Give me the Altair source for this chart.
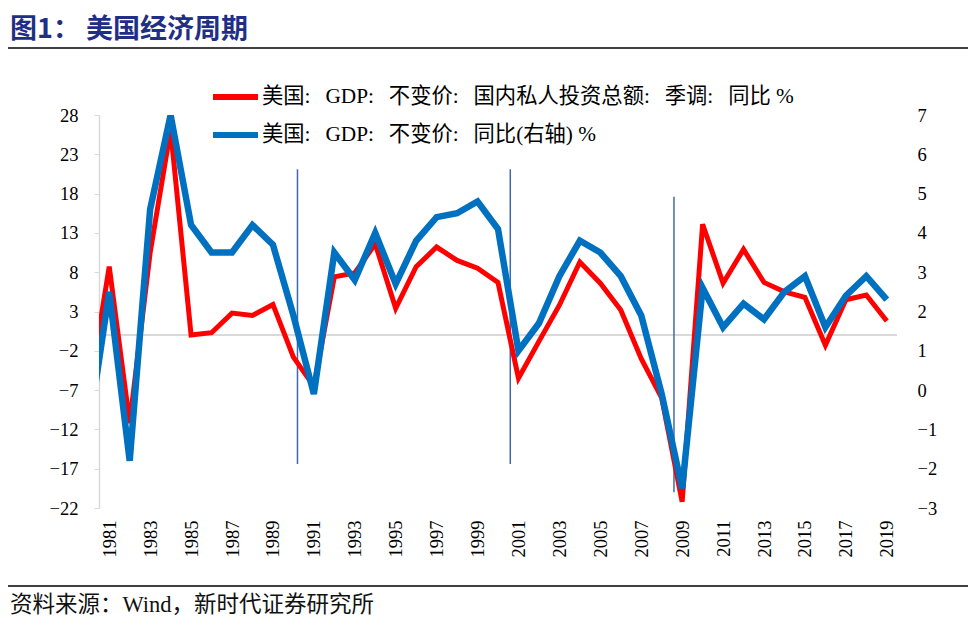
import altair as alt
import pandas as pd

TITLE = "图1：  美国经济周期"
SOURCE = "资料来源：Wind，新时代证券研究所"
SEP = ":\u2002\u2009"
SERIES = [f"美国{SEP}GDP{SEP}不变价{SEP}国内私人投资总额{SEP}季调{SEP}同比 %",
          f"美国{SEP}GDP{SEP}不变价{SEP}同比(右轴)  %"]
COLORS = ["#FF0000", "#0070C0"]

years = list(range(1980, 2020))
invest = [-7.5, 8.7, -11.2, 10.5, 26.1, 0.0, 0.3, 2.8, 2.5, 3.9,
          -2.8, -6.5, 7.4, 7.9, 11.6, 3.4, 8.7, 11.2, 9.5, 8.5,
          6.7, -5.5, -0.8, 3.8, 9.3, 6.6, 3.2, -3.0, -8.0, -21.2,
          14.1, 6.6, 10.9, 6.7, 5.5, 4.8, -1.3, 4.5, 5.1, 1.8]
gdp = [-1.0, 2.5, -1.8, 4.6, 7.0, 4.2, 3.5, 3.5, 4.2, 3.7,
       1.9, -0.1, 3.5, 2.8, 4.0, 2.7, 3.8, 4.4, 4.5, 4.8,
       4.1, 1.0, 1.7, 2.9, 3.8, 3.5, 2.9, 1.9, -0.1, -2.5,
       2.6, 1.6, 2.2, 1.8, 2.5, 2.9, 1.6, 2.4, 2.9, 2.3]

left_ticks = [-22, -17, -12, -7, -2, 3, 8, 13, 18, 23, 28]
right_ticks = [-3, -2, -1, 0, 1, 2, 3, 4, 5, 6, 7]
x_ticks = list(range(1981, 2020, 2))
x_domain = [1980.5, 2019.5]
left_domain = [-22, 28]
right_domain = [-3, 7]

# recession marker lines (year, top, bottom on left axis)
vline_year = [1990.2, 2000.6, 2008.6]
vline_top = [21.1, 21.1, 17.6]
vline_bottom = [-16.4, -16.4, -20.0]
zero_line = [0]

W, H = 798, 393
SERIF = "Liberation Serif"
CJK = "'Liberation Serif', 'Noto Sans CJK SC'"

df = pd.DataFrame({"year": years, "invest": invest, "gdp": gdp})
vdf = pd.DataFrame({"year": vline_year, "top": vline_top, "bottom": vline_bottom})
zdf = pd.DataFrame({"v": zero_line})
one = pd.DataFrame({"k": [0]})

x_enc = alt.X("year:Q",
              scale=alt.Scale(domain=x_domain, nice=False, zero=False),
              axis=alt.Axis(values=x_ticks, format="d", labelAngle=270,
                            domain=False, ticks=False, grid=False,
                            labelPadding=12, labelFont=SERIF,
                            labelFontSize=18.5, labelColor="#000000",
                            title=None, labelOverlap=False))
left_scale = alt.Scale(domain=left_domain, nice=False, zero=False)
left_axis = alt.Axis(values=left_ticks, orient="left", grid=False,
                     domainColor="#D9D9D9", domainWidth=1.5,
                     tickColor="#D9D9D9", tickSize=5, labelPadding=16,
                     labelFont=SERIF, labelFontSize=18.5, labelColor="#000000",
                     title=None)
right_axis = alt.Axis(values=right_ticks, orient="right", grid=False,
                      domain=False, ticks=False, labelPadding=20,
                      labelFont=SERIF, labelFontSize=18.5, labelColor="#000000",
                      title=None)

zero_rule = alt.Chart(zdf).mark_rule(color="#D9D9D9", strokeWidth=2).encode(
    y=alt.Y("v:Q", scale=left_scale, axis=left_axis)
)
vlines = alt.Chart(vdf).mark_rule(color="#4068B0", strokeWidth=1.5).encode(
    x=x_enc,
    y=alt.Y("top:Q", scale=left_scale, axis=left_axis),
    y2="bottom:Q",
)
red_line = alt.Chart(df).mark_line(color=COLORS[0], strokeWidth=5, clip=True).encode(
    x=x_enc,
    y=alt.Y("invest:Q", scale=left_scale, axis=left_axis),
)
blue_line = alt.Chart(df).mark_line(color=COLORS[1], strokeWidth=6.5, clip=True).encode(
    x=x_enc,
    y=alt.Y("gdp:Q", scale=alt.Scale(domain=right_domain, nice=False, zero=False),
            axis=right_axis),
)

left_layer = alt.layer(zero_rule, vlines, red_line)
data_layer = alt.layer(left_layer, blue_line).resolve_scale(y="independent")

# decorations: title, separators, legend, source
title = alt.Chart(one).mark_text(text=TITLE, align="left", baseline="middle",
                                 font="'Noto Sans CJK SC'", fontWeight="bold",
                                 fontSize=27, color="#1F2F86").encode(
    x=alt.value(-89), y=alt.value(-85))
top_sep = alt.Chart(one).mark_rule(color="#000000", strokeWidth=1.5).encode(
    x=alt.value(-91), x2=alt.value(877), y=alt.value(-67))
bot_sep = alt.Chart(one).mark_rule(color="#000000", strokeWidth=1.5).encode(
    x=alt.value(-91), x2=alt.value(877), y=alt.value(471))
source = alt.Chart(one).mark_text(text=SOURCE, align="left", baseline="middle",
                                  font="'Liberation Serif', 'Noto Sans CJK SC'",
                                  fontSize=22.5, color="#111111").encode(
    x=alt.value(-89), y=alt.value(490))

leg = []
for i, (name, col) in enumerate(zip(SERIES, COLORS)):
    yy = -18 + 38 * i
    leg.append(alt.Chart(one).mark_rule(color=col, strokeWidth=6).encode(
        x=alt.value(114), x2=alt.value(159), y=alt.value(yy)))
    leg.append(alt.Chart(one).mark_text(text=name, align="left", baseline="middle",
                                        font=CJK, fontSize=21.3, color="#000000").encode(
        x=alt.value(163), y=alt.value(yy)))

chart = alt.layer(data_layer, title, top_sep, bot_sep, source, *leg).properties(
    width=W, height=H,
    autosize=alt.AutoSizeParams(type="none"),
    padding={"left": 91, "top": 107, "right": 71, "bottom": 111},
    background="#FFFFFF",
).configure_view(stroke=None)

chart.save("out.html", embed_options={"renderer": "svg", "actions": False})
